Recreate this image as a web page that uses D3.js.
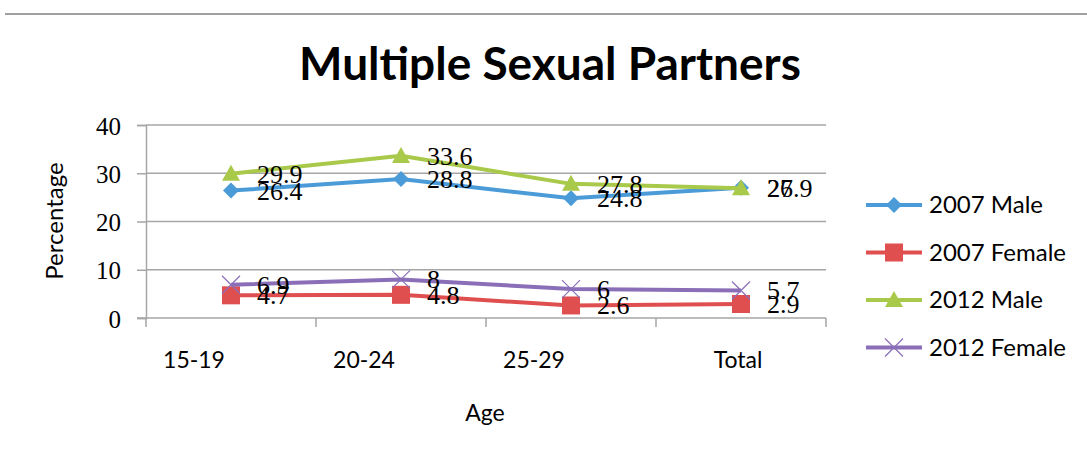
<!DOCTYPE html>
<html>
<head>
<meta charset="utf-8">
<script src="https://cdn.jsdelivr.net/npm/d3@7"></script>
<style>
  body { margin: 0; background: #fff; }
  text { fill: #000; }
</style>
</head>
<body>
<div id="chart"></div>
<script>
// chart data
const ages = ["15-19", "20-24", "25-29", "Total"];
const seriesNames = ["2007 Male", "2007 Female", "2012 Male", "2012 Female"];
const male2007 = [26.4, 28.8, 24.8, 27];
const female2007 = [4.7, 4.8, 2.6, 2.9];
const male2012 = [29.9, 33.6, 27.8, 26.9];
const female2012 = [6.9, 8, 6, 5.7];
const yTicks = [0, 10, 20, 30, 40];

const colors = ["#4a9bd8", "#e04f4f", "#a9c94a", "#8a6fb8"];
const shapes = ["diamond", "square", "triangle", "cross"];
const series = seriesNames.map((name, i) => ({
    name: name,
    values: [male2007, female2007, male2012, female2012][i],
    color: colors[i],
    shape: shapes[i]
}));

const width = 1087, height = 450;
const sans = "Lato, 'Open Sans', sans-serif";
const serif = "'Liberation Serif', 'DejaVu Serif', serif";

const svg = d3.select("#chart").append("svg")
    .attr("width", width)
    .attr("height", height);

// top rule
svg.append("line")
    .attr("x1", 5).attr("x2", width)
    .attr("y1", 14).attr("y2", 14)
    .style("stroke", "#a0a0a0").style("stroke-width", 2);

svg.append("text")
    .attr("x", 550).attr("y", 80)
    .attr("text-anchor", "middle")
    .style("font-family", sans).style("font-weight", "bold")
    .style("font-size", "46px")
    .text("Multiple Sexual Partners");

const x = d3.scaleBand().domain(ages).range([146, 826]);
const y = d3.scaleLinear().domain([0, 40]).range([318, 125]);
const cx = d => x(d) + x.bandwidth() / 2;

// gridlines
svg.append("g")
    .selectAll("line")
    .data(yTicks.filter(d => d > 0))
    .join("line")
    .attr("x1", 146).attr("x2", 826)
    .attr("y1", d => y(d)).attr("y2", d => y(d))
    .style("stroke", "#a6a6a6").style("stroke-width", 1.5);

// y axis
const yAxis = svg.append("g")
    .attr("transform", "translate(146,0)")
    .call(d3.axisLeft(y).tickValues(yTicks).tickSize(9).tickPadding(16));
yAxis.selectAll("line, path").style("stroke", "#a6a6a6").style("stroke-width", 1.5);
yAxis.selectAll("text")
    .style("font-family", serif).style("font-size", "25px")
    .attr("dy", "0.36em");

// x axis
const xAxis = svg.append("g")
    .attr("transform", "translate(0,318)");
xAxis.append("line")
    .attr("x1", 137).attr("x2", 826)
    .style("stroke", "#a6a6a6").style("stroke-width", 1.5);
xAxis.selectAll(".tk")
    .data([...ages.map(d => x(d)), x.range()[1]])
    .join("line")
    .attr("class", "tk")
    .attr("x1", d => d).attr("x2", d => d)
    .attr("y1", 0).attr("y2", 9)
    .style("stroke", "#a6a6a6").style("stroke-width", 1.5);
// category labels sit left of the band centre, the last one less so
xAxis.selectAll(".lbl")
    .data(ages)
    .join("text")
    .attr("class", "lbl")
    .attr("x", (d, i) => cx(d) - (i < ages.length - 1 ? 37 : 3))
    .attr("y", 50)
    .attr("text-anchor", "middle")
    .style("font-family", sans).style("font-size", "23px")
    .text(d => d);

svg.append("text")
    .attr("x", 485).attr("y", 421)
    .attr("text-anchor", "middle")
    .style("font-family", sans).style("font-size", "23px")
    .text("Age");

svg.append("text")
    .attr("transform", "translate(63,221) rotate(-90)")
    .attr("text-anchor", "middle")
    .style("font-family", sans).style("font-size", "24px")
    .text("Percentage");

function drawMarker(g, s) {
    if (s.shape === "diamond") {
        g.append("path").attr("d", "M0,-8L8,0L0,8L-8,0Z").style("fill", s.color);
    } else if (s.shape === "square") {
        g.append("rect").attr("x", -9).attr("y", -9).attr("width", 18).attr("height", 18).style("fill", s.color);
    } else if (s.shape === "triangle") {
        g.append("path").attr("d", "M0,-9L9,7L-9,7Z").style("fill", s.color);
    } else {
        g.append("path").attr("d", "M-9,-9L9,9M-9,9L9,-9")
            .style("stroke", s.color).style("stroke-width", 1.2).style("fill", "none");
    }
}

const line = d3.line()
    .x((d, i) => cx(ages[i]))
    .y(d => y(d));

const plot = svg.append("g");
series.forEach(s => {
    plot.append("path")
        .datum(s.values)
        .attr("d", line)
        .style("fill", "none")
        .style("stroke", s.color)
        .style("stroke-width", 4);
    s.values.forEach((v, i) => {
        const g = plot.append("g")
            .attr("transform", `translate(${cx(ages[i])},${y(v)})`);
        drawMarker(g, s);
    });
});

// data labels
series.forEach(s => {
    plot.selectAll(null)
        .data(s.values)
        .join("text")
        .attr("x", (d, i) => cx(ages[i]) + 26)
        .attr("y", d => y(d) + 9)
        .style("font-family", serif).style("font-size", "26px")
        .text(d => d);
});

// legend
const legend = svg.append("g");
series.forEach((s, i) => {
    const ly = 205 + i * 47.5;
    const g = legend.append("g").attr("transform", `translate(0,${ly})`);
    g.append("line")
        .attr("x1", 866).attr("x2", 922)
        .style("stroke", s.color).style("stroke-width", 4);
    const m = g.append("g").attr("transform", "translate(894,0)");
    drawMarker(m, s);
    g.append("text")
        .attr("x", 929).attr("y", 8)
        .style("font-family", sans).style("font-size", "24px")
        .text(s.name);
});
</script>
</body>
</html>
